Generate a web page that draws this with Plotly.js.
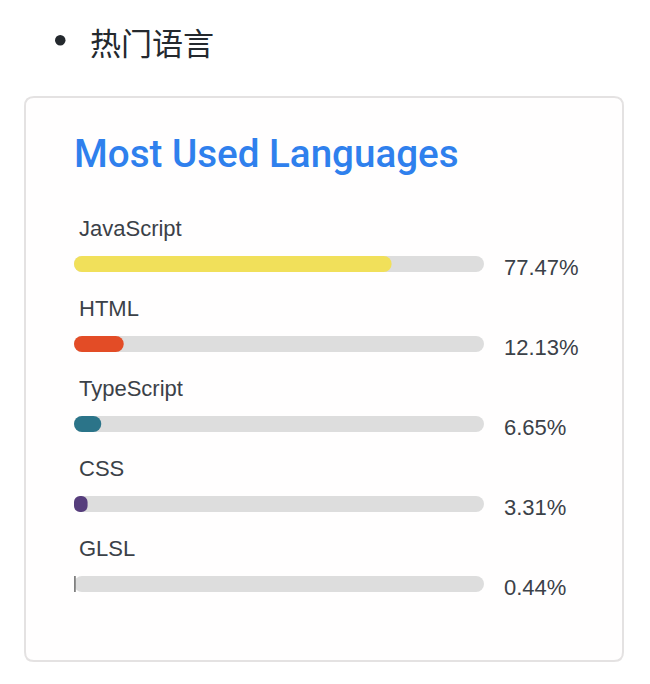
<!DOCTYPE html>
<html>
<head>
<meta charset="utf-8">
<script src="https://cdn.plot.ly/plotly-3.0.1.min.js"></script>
<style>
html,body{margin:0;padding:0;background:#ffffff;}
#chart{width:650px;height:684px;}
</style>
</head>
<body>
<div id="chart"></div>
<script>
// ---- data ----
var languages = ["JavaScript", "HTML", "TypeScript", "CSS", "GLSL"];
var percents = [77.47, 12.13, 6.65, 3.31, 0.44];
var colors = ["#f1e05a", "#e34c26", "#2b7489", "#563d7c", "#808080"];
var fullScale = [100, 100, 100, 100, 100];
var cardTitle = "Most Used Languages";
var heading = "热门语言";

// ---- geometry helpers (pixel -> paper) ----
var W = 650, H = 684;
var mL = 74, mR = 166, mT = 224, mB = 60;
var pw = W - mL - mR, ph = H - mT - mB;
function px(x){ return (x - mL) / pw; }
function py(y){ return (H - mB - y) / ph; }

function roundedRect(x0, y0, x1, y1, r){
  var p = [];
  p.push("M" + px(x0 + r) + "," + py(y0));
  p.push("L" + px(x1 - r) + "," + py(y0));
  p.push("Q" + px(x1) + "," + py(y0) + " " + px(x1) + "," + py(y0 + r));
  p.push("L" + px(x1) + "," + py(y1 - r));
  p.push("Q" + px(x1) + "," + py(y1) + " " + px(x1 - r) + "," + py(y1));
  p.push("L" + px(x0 + r) + "," + py(y1));
  p.push("Q" + px(x0) + "," + py(y1) + " " + px(x0) + "," + py(y1 - r));
  p.push("L" + px(x0) + "," + py(y0 + r));
  p.push("Q" + px(x0) + "," + py(y0) + " " + px(x0 + r) + "," + py(y0));
  p.push("Z");
  return p.join(" ");
}

// floating bars (explicit base) get both ends rounded
function pill(values, color){
  return {
    type: "bar", orientation: "h", y: languages, x: values,
    base: values.map(function(){ return 1e-9; }),
    width: 0.2, hoverinfo: "skip", showlegend: false,
    marker: {color: color, cornerradius: 8}
  };
}

var labelFont = {family: "'Liberation Sans', Arial, sans-serif", size: 22, color: "#3b4148"};

var traces = [pill(fullScale, "#dddddd"), pill(percents, colors)];

var annotations = [];
languages.forEach(function(lang, i){
  annotations.push({
    x: 0, y: lang, xref: "x", yref: "y",
    text: lang, showarrow: false,
    xanchor: "left", yanchor: "middle",
    xshift: 3, yshift: 36,
    font: labelFont
  });
  annotations.push({
    x: 100, y: lang, xref: "x", yref: "y",
    text: percents[i].toFixed(2) + "%", showarrow: false,
    xanchor: "left", yanchor: "middle",
    xshift: 18, yshift: -3,
    font: labelFont
  });
});
annotations.push({
  x: px(88), y: py(41), xref: "paper", yref: "paper",
  text: heading, showarrow: false, xanchor: "left", yanchor: "middle",
  font: {family: "'Noto Sans CJK SC', sans-serif", size: 31, color: "#24292e"}
});

var layout = {
  width: W, height: H,
  margin: {l: mL, r: mR, t: mT, b: mB, pad: 0},
  paper_bgcolor: "#ffffff",
  plot_bgcolor: "rgba(0,0,0,0)",
  barmode: "overlay",
  showlegend: false,
  title: {
    text: cardTitle,
    x: px(74), xref: "paper", xanchor: "left",
    y: 1 - 153 / H, yref: "container", yanchor: "middle",
    font: {family: "Roboto, 'Noto Sans', sans-serif", size: 38.6, color: "#2f80ed", weight: 500}
  },
  xaxis: {range: [0, 100], visible: false, fixedrange: true},
  yaxis: {type: "category", categoryorder: "array", categoryarray: languages,
          range: [4.5, -0.5], visible: false, fixedrange: true},
  shapes: [
    {
      type: "path", xref: "paper", yref: "paper", layer: "below",
      path: roundedRect(25, 97, 623, 661, 9),
      line: {color: "#e4e2e2", width: 2},
      fillcolor: "#fffefe"
    },
    {
      type: "circle", xref: "paper", yref: "paper",
      x0: px(55), x1: px(65.5), y0: py(45.5), y1: py(35),
      line: {width: 0}, fillcolor: "#24292e"
    }
  ],
  annotations: annotations
};

Plotly.newPlot("chart", traces, layout, {displayModeBar: false, staticPlot: true});
</script>
</body>
</html>
